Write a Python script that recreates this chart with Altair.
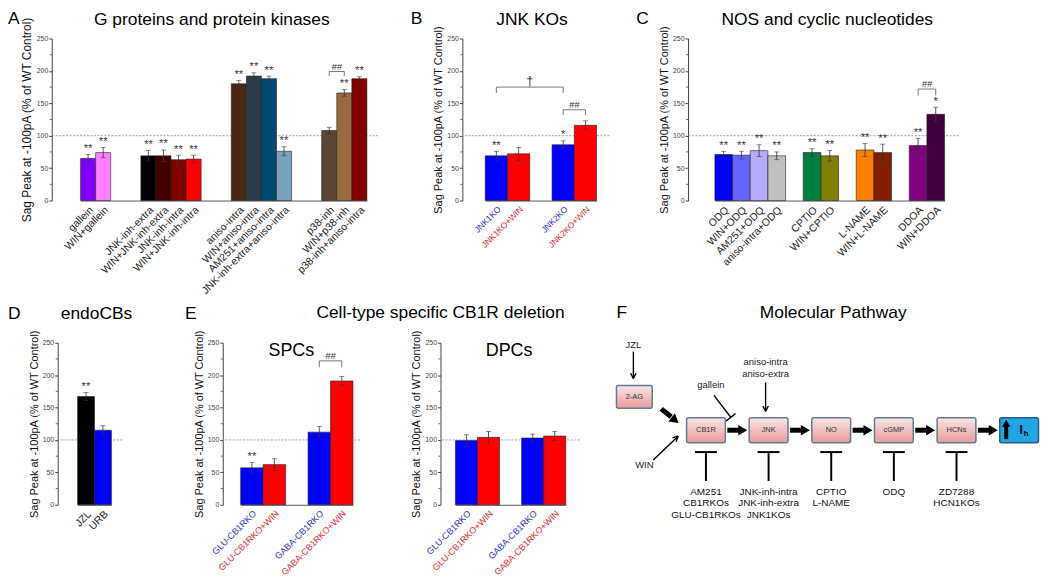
import math
import altair as alt
import pandas as pd

FONT = "Liberation Sans"
YTITLE = "Sag Peak at -100pA (% of WT Control)"
Y_TICKS = [0, 50, 100, 150, 200, 250]
Y_MINOR = [25, 75, 125, 175, 225]
PLOT_H = 163
BLUE_LAB = "#2b2bd6"
RED_LAB = "#e8262b"

# ---------------- Panel A : G proteins and protein kinases ----------------
a_groups = [
    ["gallein", "WIN+gallein"],
    ["JNK-inh-extra", "WIN+JNK-inh-extra", "JNK-inh-intra", "WIN+JNK-inh-intra"],
    ["aniso-intra", "WIN+aniso-intra", "AM251+aniso-intra", "JNK-inh-extra+aniso-intra"],
    ["p38-inh", "WIN+p38-inh", "p38-inh+aniso-intra"],
]
a_values = [65, 74, 69, 69, 63, 64, 180, 192, 188, 76, 108, 166, 188]
a_sem = [6, 8, 8, 9, 7, 6, 5, 5, 4, 7, 5, 5, 3]
a_stars = ["**", "**", "**", "**", "**", "**", "**", "**", "**", "**", "", "**", "**"]
a_colors = ["#8000ff", "#ff80ff", "#000000", "#400000", "#800000", "#ff0000",
            "#4a2818", "#2a3c4a", "#004a72", "#7aa2bf", "#5a4636", "#9a6a3e", "#800000"]
a_brackets = [("p38-inh", "WIN+p38-inh", 199, 192, "##")]

# ---------------- Panel B : JNK KOs ----------------
b_groups = [["JNK1KO", "JNK1KO+WIN"], ["JNK2KO", "JNK2KO+WIN"]]
b_values = [69, 72, 86, 116]
b_sem = [7, 10, 6, 7]
b_stars = ["**", "", "*", ""]
b_colors = ["#0000ff", "#ff0000", "#0000ff", "#ff0000"]
b_brackets = [("JNK1KO", "JNK2KO", 175, 166, "\u2020"), ("JNK2KO", "JNK2KO+WIN", 140, 132, "##")]

# ---------------- Panel C : NOS and cyclic nucleotides ----------------
c_groups = [
    ["ODQ", "WIN+ODQ", "AM251+ODQ", "aniso-intra+ODQ"],
    ["CPTIO", "WIN+CPTIO"],
    ["L-NAME", "WIN+L-NAME"],
    ["DDOA", "WIN+DDOA"],
]
c_values = [71, 70, 77, 69, 74, 69, 78, 74, 85, 133]
c_sem = [5, 6, 9, 6, 6, 8, 10, 13, 11, 11]
c_stars = ["**", "**", "**", "**", "**", "**", "**", "**", "**", "*"]
c_colors = ["#0000ff", "#6666ff", "#b4acff", "#c0c0c0", "#008040", "#808000",
            "#ff8000", "#802000", "#800080", "#400040"]
c_brackets = [("DDOA", "WIN+DDOA", 172, 162, "##")]

# ---------------- Panel D : endoCBs ----------------
d_groups = [["JZL", "URB"]]
d_values = [167, 115]
d_sem = [6, 7]
d_stars = ["**", ""]
d_colors = ["#000000", "#0000ff"]

# ---------------- Panel E : cell-type specific CB1R deletion ----------------
e_groups = [["GLU-CB1RKO", "GLU-CB1RKO+WIN"], ["GABA-CB1RKO", "GABA-CB1RKO+WIN"]]
e_spc_values = [57, 62, 112, 191]
e_spc_sem = [8, 9, 9, 7]
e_spc_stars = ["**", "", "", ""]
e_dpc_values = [99, 104, 103, 106]
e_dpc_sem = [9, 9, 6, 7]
e_dpc_stars = ["", "", "", ""]
e_colors = ["#0000ff", "#ff0000", "#0000ff", "#ff0000"]
e_brackets = [("GABA-CB1RKO", "GABA-CB1RKO+WIN", 222, 212, "##")]

# ---------------- Panel F : molecular pathway ----------------
path_nodes = ["CB1R", "JNK", "NO", "cGMP", "HCNs"]
path_inhibitors = [
    ["AM251", "CB1RKOs", "GLU-CB1RKOs"],
    ["JNK-inh-intra", "JNK-inh-extra", "JNK1KOs"],
    ["CPTIO", "L-NAME"],
    ["ODQ"],
    ["ZD7288", "HCN1KOs"],
]
upstream_node = "2-AG"
upstream_drug = "JZL"
agonist = "WIN"
g_inhibitor = "gallein"
jnk_activators = ["aniso-intra", "aniso-extra"]


def txt(text, x, y, size=17.5, align="left", baseline="alphabetic", **kw):
    return alt.Chart(pd.DataFrame({"t": [text]})).mark_text(
        align=align, baseline=baseline, fontSize=size, color=kw.pop("color", "#000"), **kw
    ).encode(x=alt.value(x), y=alt.value(y), text="t:N")


def bar_panel(groups, values, sems, stars, colors, width, lead, trail, gap,
              colored_labels=False, label_size=10.5, brackets=(), extra=(), title_size=11):
    names = [n for g in groups for n in g]
    domain = []
    for gi, g in enumerate(groups):
        if gi:
            for _ in range(gap):
                domain.append(" " * (len(domain) + 1))
        domain.extend(g)
    n = len(domain)
    step = (width - lead - trail) / n

    df = pd.DataFrame({"name": names, "value": values, "sem": sems,
                       "star": stars, "color": colors})
    df["lo"] = df["value"] - df["sem"]
    df["hi"] = df["value"] + df["sem"]

    if colored_labels:
        lab_color = {"condition": {"test": "indexof(datum.label, 'WIN') >= 0", "value": RED_LAB},
                     "value": BLUE_LAB}
    else:
        lab_color = "#222"
    xscale = alt.Scale(domain=domain, paddingInner=0, paddingOuter=0, range=[lead, width - trail])
    xaxis = alt.Axis(title=None, labelAngle=-45, labelFontSize=label_size, labelColor=lab_color,
                     ticks=False, domainColor="#555", domainWidth=1, labelPadding=4,
                     labelOverlap=False)
    yscale = alt.Scale(domain=[0, 250], nice=False, zero=True)
    yaxis = alt.Axis(values=Y_TICKS, title=YTITLE, titleFontSize=title_size,
                     titleFontWeight="normal", titleColor="#111", titlePadding=3,
                     labelFontSize=7, labelColor="#444", tickSize=3, tickColor="#444",
                     domainColor="#444", grid=False, labelPadding=1)

    def X(f):
        return alt.X(f, scale=xscale, axis=xaxis)

    def Y(f):
        return alt.Y(f, scale=yscale, axis=yaxis)

    base = alt.Chart(df)
    layers = [
        alt.Chart(pd.DataFrame({"r": [100]})).mark_rule(
            color="#a0a0a0", strokeDash=[2, 1.5], strokeWidth=1).encode(y=Y("r:Q")),
        base.mark_bar(stroke="#222", strokeWidth=0.6).encode(
            x=X("name:N"), y=Y("value:Q"), fill=alt.Fill("color:N", scale=None)),
        base.mark_rule(color="#333", strokeWidth=0.8).encode(
            x=X("name:N"), y=Y("lo:Q"), y2="hi:Q"),
        base.mark_tick(color="#333", thickness=0.8, size=5, orient="horizontal").encode(
            x=X("name:N"), y=Y("hi:Q")),
        base.mark_tick(color="#333", thickness=0.8, size=5, orient="horizontal").encode(
            x=X("name:N"), y=Y("lo:Q")),
        base.transform_filter("datum.star != ''").mark_text(
            dy=-2.5, baseline="alphabetic", fontSize=11.5, color="#3a3a3a").encode(
            x=X("name:N"), y=Y("hi:Q"), text="star:N"),
        alt.Chart(pd.DataFrame({"m": Y_MINOR})).mark_rule(color="#444", strokeWidth=0.8).encode(
            y=Y("m:Q"), x=alt.value(0), x2=alt.value(-2)),
    ]
    for c1, c2, top, low, label in brackets:
        i1, i2 = domain.index(c1), domain.index(c2)
        layers.append(alt.Chart(pd.DataFrame({"a": [c1], "b": [c2], "t": [top]})).mark_rule(
            color="#555", strokeWidth=0.8).encode(x=X("a:N"), x2="b:N", y=Y("t:Q")))
        layers.append(alt.Chart(pd.DataFrame({"c": [c1, c2], "lo": [low, low], "t": [top, top]})).mark_rule(
            color="#555", strokeWidth=0.8).encode(x=X("c:N"), y=Y("lo:Q"), y2="t:Q"))
        is_dagger = label == "\u2020"
        layers.append(alt.Chart(pd.DataFrame({"c": [c1], "t": [top], "s": [label]})).mark_text(
            dx=(i2 - i1) * step / 2, dy=-2, baseline="alphabetic",
            fontSize=13 if is_dagger else 9.5, fontStyle="normal" if is_dagger else "italic",
            color="#333").encode(x=X("c:N"), y=Y("t:Q"), text="s:N"))
    layers.extend(extra)
    return alt.layer(*layers).properties(width=width, height=PLOT_H)


# ---------- panels ----------
A = bar_panel(a_groups, a_values, a_sem, a_stars, a_colors, 328, 29, 11, 2,
              brackets=a_brackets, label_size=10.5, title_size=12,
              extra=[
                  alt.Chart(pd.DataFrame({"v": [0]})).mark_square(size=4, color="white", opacity=1)
                  .encode(x=alt.value(-43), y=alt.value(-27)),
                  txt("A", -44, -15),
                  txt("G proteins and protein kinases", 161, -14, align="center"),
              ])
B = bar_panel(b_groups, b_values, b_sem, b_stars, b_colors, 148, 23, 13, 1,
              colored_labels=True, label_size=8.5, brackets=b_brackets,
              extra=[txt("B", -52, -15), txt("JNK KOs", 70, -14, align="center")])
C = bar_panel(c_groups, c_values, c_sem, c_stars, c_colors, 272, 27, 14, 1,
              brackets=c_brackets, label_size=10.5,
              extra=[txt("C", -52, -15), txt("NOS and cyclic nucleotides", 140, -14, align="center")])
D = bar_panel(d_groups, d_values, d_sem, d_stars, d_colors, 65, 20, 11, 1, label_size=10.5,
              extra=[txt("D", -50, -24), txt("endoCBs", 39, -24, align="center")])
E1 = bar_panel(e_groups, e_spc_values, e_spc_sem, e_spc_stars, e_colors, 138, 18, 7, 1,
               colored_labels=True, label_size=9, brackets=e_brackets,
               extra=[txt("E", -38, -24),
                      txt("Cell-type specific CB1R deletion", 219, -25, align="center"),
                      txt("SPCs", 69, 13, size=18, align="center")])
E2 = bar_panel(e_groups, e_dpc_values, e_dpc_sem, e_dpc_stars, e_colors, 140, 15, 14, 1,
               colored_labels=True, label_size=9,
               extra=[txt("DPCs", 69, 13, size=18, align="center")])


# ---------- pathway diagram ----------
def pathway_panel():
    W = 433
    NODE_X0, NODE_DX, NODE_Y = 95, 63, 88
    BW, BH = 19.5, 12.5
    xs = alt.Scale(domain=[0, W], nice=False, zero=False)
    ys = alt.Scale(domain=[0, PLOT_H], nice=False, zero=False, reverse=True)

    def XQ(f):
        return alt.X(f, scale=xs, axis=None)

    def YQ(f):
        return alt.Y(f, scale=ys, axis=None)

    segs = []  # x, y, x2, y2, w

    def arrow(x1, y1, x2, y2, head=6, w=1.4):
        segs.append((x1, y1, x2, y2, w))
        ang = math.atan2(y2 - y1, x2 - x1)
        for s in (1, -1):
            a = ang + math.pi + s * math.radians(27)
            segs.append((x2, y2, x2 + head * math.cos(a), y2 + head * math.sin(a), w))

    tris = []  # x, y, angle
    boxes = []  # x, y, x2, y2, label
    texts = []  # x, y, text, size, color

    node_x = [NODE_X0 + i * NODE_DX for i in range(len(path_nodes) + 1)]
    for i, nm in enumerate(path_nodes):
        cx = node_x[i]
        boxes.append((cx - BW, NODE_Y - BH, cx + BW, NODE_Y + BH, nm))
        texts.append((cx, NODE_Y, nm, 7.5, "#333"))
        nx = node_x[i + 1]
        segs.append((cx + BW + 2, NODE_Y, nx - BW - 9, NODE_Y, 5))
        tris.append((nx - BW - 6.5, NODE_Y, 0))
        segs.append((cx, 110, cx, 139, 2))
        segs.append((cx - 11, 110, cx + 11, 110, 2))
        for k, s in enumerate(path_inhibitors[i]):
            texts.append((cx, 150 + k * 11.5, s, 10, "#111"))
    ih_x = node_x[-1]
    ux, uy = 23, 54.5
    boxes.append((ux - 18, uy - 11.5, ux + 18, uy + 11.5, upstream_node))
    texts.append((ux, uy, upstream_node, 7.5, "#333"))
    texts.append((22, 2, upstream_drug, 9.5, "#222"))
    arrow(22, 9, 22, 36)
    segs.append((50, 66.5, 60, 74.5, 5))
    tris.append((64, 78, 39))
    texts.append((33, 123, agonist, 9.5, "#222"))
    arrow(42, 118, 67, 94)
    texts.append((100, 43, g_inhibitor, 9.5, "#222"))
    segs.append((103, 53, 120, 75, 1.4))
    segs.append((115.3, 78.7, 124.7, 71.3, 1.4))
    for k, s in enumerate(jnk_activators):
        texts.append((node_x[1] - 3, 19 + 12 * k, s, 9.5, "#222"))
    arrow(node_x[1] - 3, 40, node_x[1] - 3, 69)

    seg_df = pd.DataFrame(segs, columns=["x", "y", "x2", "y2", "w"])
    tri_df = pd.DataFrame(tris, columns=["x", "y", "angle"])
    box_df = pd.DataFrame(boxes, columns=["x", "y", "x2", "y2", "label"])
    txt_df = pd.DataFrame(texts, columns=["x", "y", "text", "size", "color"])
    ih_df = pd.DataFrame({"x": [ih_x - BW], "y": [NODE_Y - BH], "x2": [ih_x + BW], "y2": [NODE_Y + BH]})

    pink = alt.Gradient(gradient="linear",
                        stops=[alt.GradientStop(color="#fbe6e6", offset=0),
                               alt.GradientStop(color="#e89a9a", offset=1)],
                        x1=0, x2=0, y1=0, y2=1)
    layers = [
        alt.Chart(box_df).mark_rect(fill=pink, stroke="#5f7b98", strokeWidth=1.5, cornerRadius=2).encode(
            x=XQ("x:Q"), y=YQ("y:Q"), x2="x2:Q", y2="y2:Q"),
        alt.Chart(ih_df).mark_rect(fill="#1ea6e6", stroke="#2b5d88", strokeWidth=1.5, cornerRadius=2).encode(
            x=XQ("x:Q"), y=YQ("y:Q"), x2="x2:Q", y2="y2:Q"),
        alt.Chart(seg_df).mark_rule(color="#000", strokeCap="butt").encode(
            x=XQ("x:Q"), y=YQ("y:Q"), x2="x2:Q", y2="y2:Q",
            strokeWidth=alt.StrokeWidth("w:Q", scale=None)),
        alt.Chart(tri_df).mark_point(shape="triangle-right", filled=True, size=110, color="#000", opacity=1).encode(
            x=XQ("x:Q"), y=YQ("y:Q"), angle=alt.Angle("angle:Q", scale=None)),
        alt.Chart(txt_df).mark_text(baseline="middle", align="center").encode(
            x=XQ("x:Q"), y=YQ("y:Q"), text="text:N",
            size=alt.Size("size:Q", scale=None), color=alt.Color("color:N", scale=None)),
        alt.Chart(pd.DataFrame({"x": [ih_x - 13], "y": [97], "x2": [ih_x - 13], "y2": [83]})).mark_rule(
            color="#000", strokeWidth=4).encode(x=XQ("x:Q"), y=YQ("y:Q"), x2="x2:Q", y2="y2:Q"),
        alt.Chart(pd.DataFrame({"x": [ih_x - 13], "y": [81]})).mark_point(
            shape="triangle-up", filled=True, size=70, color="#000", opacity=1).encode(
            x=XQ("x:Q"), y=YQ("y:Q")),
        alt.Chart(pd.DataFrame({"x": [ih_x + 2], "y": [88], "t": ["I"]})).mark_text(
            fontSize=12, fontWeight="bold", baseline="middle").encode(x=XQ("x:Q"), y=YQ("y:Q"), text="t:N"),
        alt.Chart(pd.DataFrame({"x": [ih_x + 7], "y": [92], "t": ["h"]})).mark_text(
            fontSize=8, fontWeight="bold", baseline="middle").encode(x=XQ("x:Q"), y=YQ("y:Q"), text="t:N"),
        txt("F", 5, -25),
        txt("Molecular Pathway", 223, -25, align="center"),
    ]
    return alt.layer(*layers).properties(width=W, height=PLOT_H)


F = pathway_panel()


def gap(w):
    return alt.Chart(pd.DataFrame({"v": [0]})).mark_point(opacity=0).properties(width=w, height=PLOT_H)


row1 = alt.hconcat(A, gap(85), B, gap(79), C, spacing=0, bounds="flush")
row2 = alt.hconcat(gap(6), D, gap(101), E1, gap(81), E2, gap(32), F, spacing=0, bounds="flush")

# nested concat rows count with zero flush height, so spacing spans row height + gap
chart = (alt.vconcat(row1, row2, spacing=PLOT_H + 143, bounds="flush")
         .properties(padding=0)
         .configure(font=FONT)
         .configure_view(strokeWidth=0))

chart.save("out.html", embed_options={"renderer": "svg", "actions": False})
